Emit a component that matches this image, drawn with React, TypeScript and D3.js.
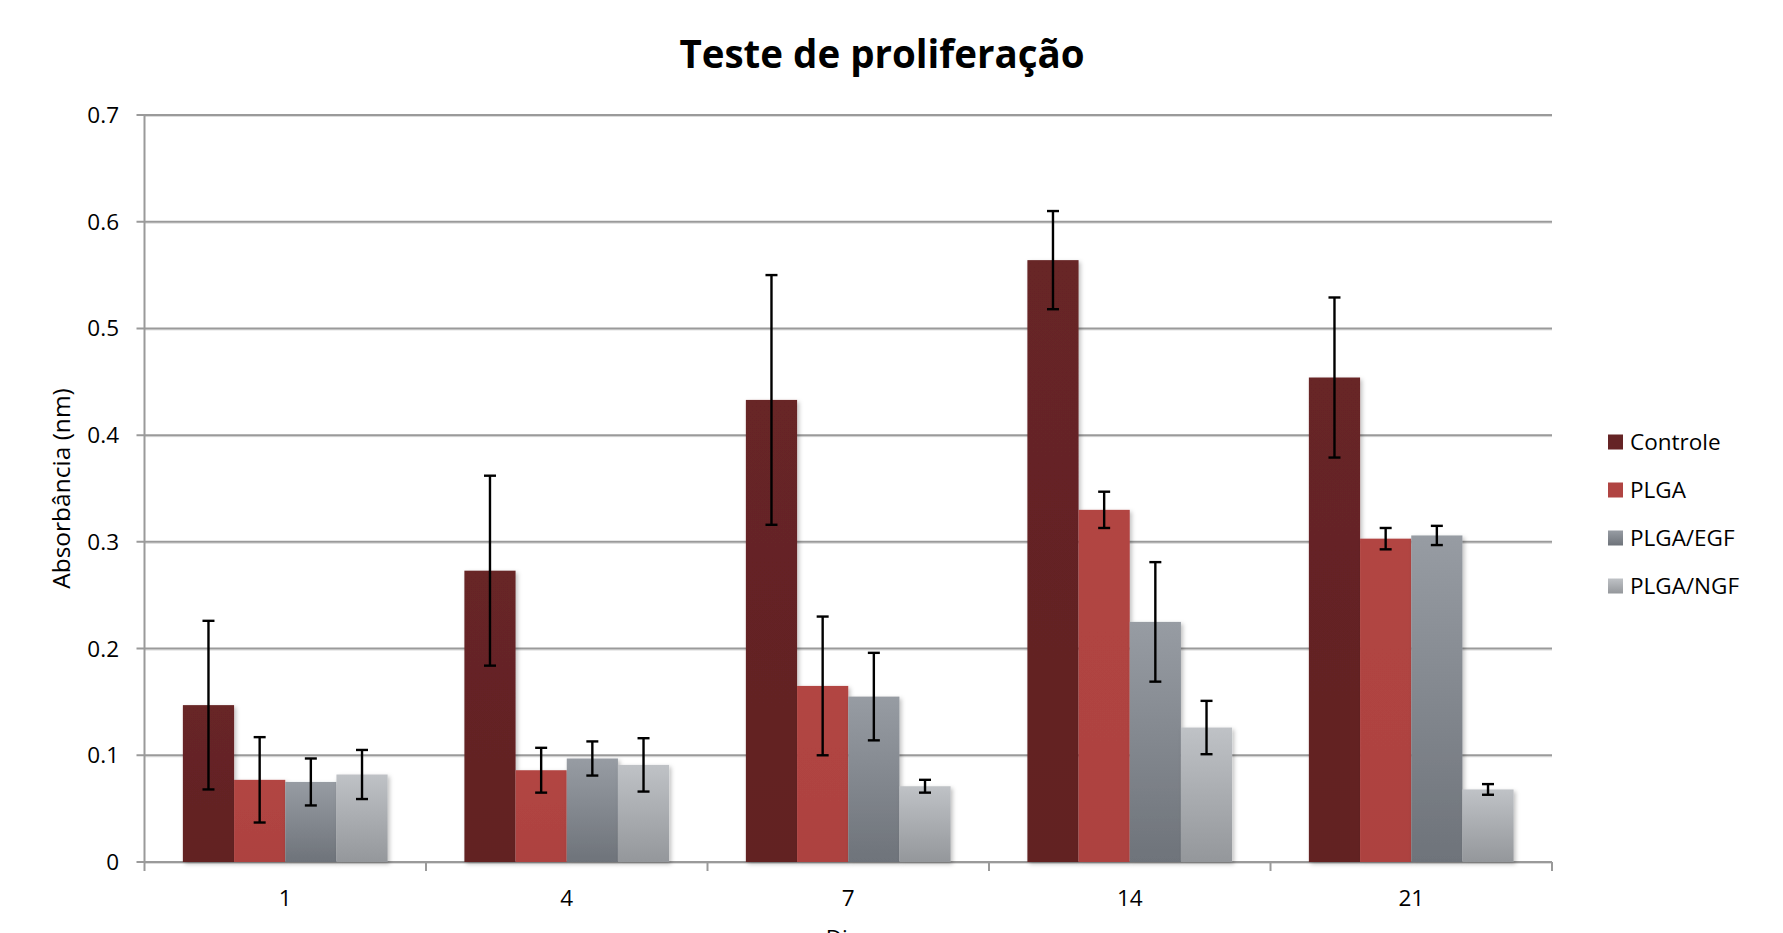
import React from "react";
import * as d3 from "d3";

const categories = ["1", "4", "7", "14", "21"];
const seriesNames = ["Controle", "PLGA", "PLGA/EGF", "PLGA/NGF"];
const controle = [0.147, 0.273, 0.433, 0.564, 0.454];
const controleErr = [0.079, 0.089, 0.117, 0.046, 0.075];
const plga = [0.077, 0.086, 0.165, 0.330, 0.303];
const plgaErr = [0.040, 0.021, 0.065, 0.017, 0.010];
const egf = [0.075, 0.097, 0.155, 0.225, 0.306];
const egfErr = [0.022, 0.016, 0.041, 0.056, 0.009];
const ngf = [0.082, 0.091, 0.071, 0.126, 0.068];
const ngfErr = [0.023, 0.025, 0.006, 0.025, 0.005];
const yTicks = [0, 0.1, 0.2, 0.3, 0.4, 0.5, 0.6, 0.7];

const values = [controle, plga, egf, ngf];
const errors = [controleErr, plgaErr, egfErr, ngfErr];
const fills = ["url(#gC)", "url(#gP)", "url(#gE)", "url(#gN)"];
const legendFills = ["#652425", "#B04442", "url(#gE)", "url(#gN)"];

export default function App() {
  const W = 1783, H = 933;
  const left = 144.5, right = 1552, top = 115, bottom = 862;
  const font = "'Open Sans', sans-serif";
  const x = d3.scaleBand<string>().domain(categories).range([left, right]).paddingInner(0).paddingOuter(0);
  // gap width 150% -> outer padding of 0.75 bar each side
  const inner = d3.scaleBand<string>().domain(seriesNames).range([0, x.bandwidth()]).paddingOuter(0.75).paddingInner(0);
  const y = d3.scaleLinear().domain([0, 0.7]).range([bottom, top]);
  const boundaries = [...categories.map((c) => x(c) as number), right];

  return (
    <svg width={W} height={H} style={{ position: "absolute", left: 0, top: 0, background: "#fff" }} fontFamily={font}>
      <defs>
        <linearGradient id="gC" x1="0" y1="0" x2="0" y2="1">
          <stop offset="0" stopColor="#672526" />
          <stop offset="1" stopColor="#622223" />
        </linearGradient>
        <linearGradient id="gP" x1="0" y1="0" x2="0" y2="1">
          <stop offset="0" stopColor="#B24543" />
          <stop offset="1" stopColor="#AD4240" />
        </linearGradient>
        <linearGradient id="gE" x1="0" y1="0" x2="0" y2="1">
          <stop offset="0" stopColor="#979CA3" />
          <stop offset="1" stopColor="#6E737A" />
        </linearGradient>
        <linearGradient id="gN" x1="0" y1="0" x2="0" y2="1">
          <stop offset="0" stopColor="#BFC2C6" />
          <stop offset="1" stopColor="#94979B" />
        </linearGradient>
        <filter id="sh" x="-10%" y="-10%" width="130%" height="130%">
          <feDropShadow dx="2" dy="2" stdDeviation="2" floodColor="#000" floodOpacity="0.25" />
        </filter>
      </defs>

      <text x={882} y={68} textAnchor="middle" fontSize={38.5} fontWeight="bold" fill="#000">
        Teste de proliferação
      </text>

      {/* gridlines */}
      {yTicks.map((t) => (
        <g key={t}>
          <line x1={left} x2={right} y1={y(t) + 1.5} y2={y(t) + 1.5} stroke="#dcdcdc" strokeWidth={1} />
          <line x1={left - 8} x2={right} y1={y(t)} y2={y(t)} stroke="#9a9a9a" strokeWidth={2} />
          <text x={119} y={y(t) + 8} textAnchor="end" fontSize={22.5} fill="#000">
            {t === 0 ? "0" : t.toFixed(1)}
          </text>
        </g>
      ))}
      {/* y axis */}
      <line x1={left} x2={left} y1={top} y2={bottom} stroke="#9a9a9a" strokeWidth={2} />
      {/* x ticks */}
      {boundaries.map((b, i) => (
        <line key={i} x1={b} x2={b} y1={bottom} y2={bottom + 9} stroke="#9a9a9a" strokeWidth={2} />
      ))}

      {/* bars */}
      {categories.map((c, ci) => (
        <g key={c} transform={`translate(${x(c)},0)`}>
          {seriesNames.map((s, si) => {
            const v = values[si][ci];
            const bx = inner(s) as number;
            return (
              <rect key={s} x={bx} y={y(v)} width={inner.bandwidth()} height={y(0) - y(v)} fill={fills[si]} filter="url(#sh)" />
            );
          })}
        </g>
      ))}
      {/* error bars */}
      {categories.map((c, ci) => (
        <g key={c} transform={`translate(${x(c)},0)`}>
          {seriesNames.map((s, si) => {
            const v = values[si][ci];
            const e = errors[si][ci];
            const cx = (inner(s) as number) + inner.bandwidth() / 2;
            const y1 = y(v + e), y2 = y(v - e);
            return (
              <g key={s} stroke="#000" strokeWidth={2.4}>
                <line x1={cx} x2={cx} y1={y1} y2={y2} />
                <line x1={cx - 6} x2={cx + 6} y1={y1} y2={y1} />
                <line x1={cx - 6} x2={cx + 6} y1={y2} y2={y2} />
              </g>
            );
          })}
        </g>
      ))}

      {/* x labels */}
      {categories.map((c) => (
        <text key={c} x={(x(c) as number) + x.bandwidth() / 2} y={906} textAnchor="middle" fontSize={22.5} fill="#000">
          {c}
        </text>
      ))}
      <text x={(left + right) / 2} y={946} textAnchor="middle" fontSize={22.5} fill="#000">
        Dias
      </text>
      <text transform={`translate(70,${(top + bottom) / 2}) rotate(-90)`} textAnchor="middle" fontSize={24.5} fill="#000">
        Absorbância (nm)
      </text>

      {/* legend */}
      {seriesNames.map((s, i) => (
        <g key={s} transform={`translate(1608,${442 + i * 48})`}>
          <rect x={0} y={-7.5} width={15} height={15} fill={legendFills[i]} />
          <text x={22} y={8} fontSize={22.5} fill="#000">
            {s}
          </text>
        </g>
      ))}
    </svg>
  );
}
